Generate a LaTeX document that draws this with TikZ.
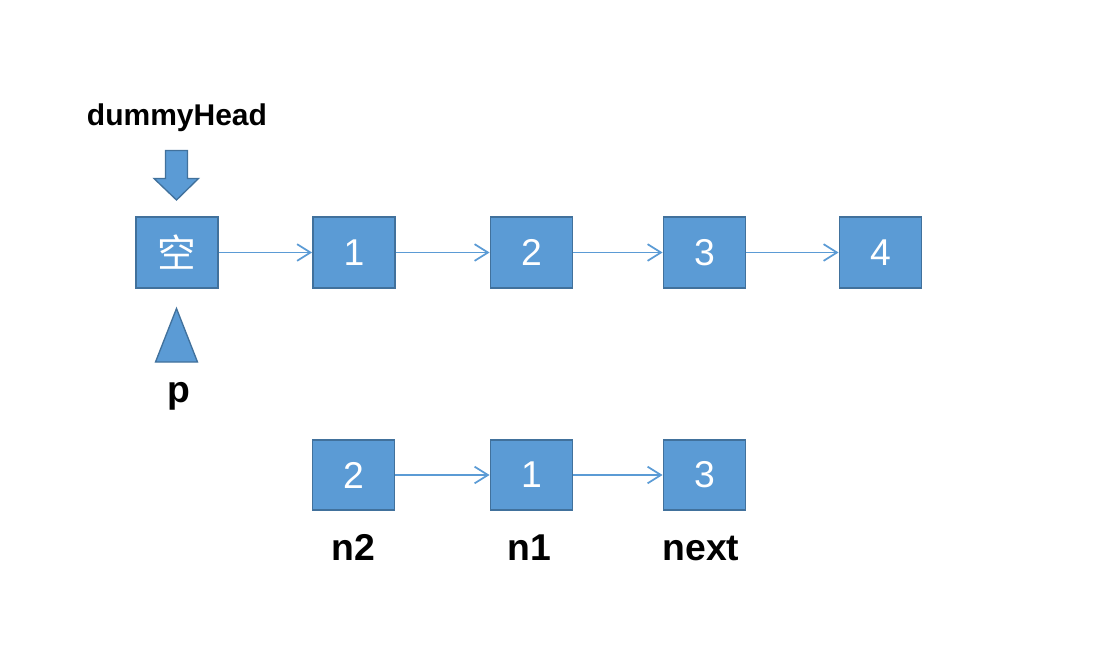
\documentclass[tikz,border=0pt]{standalone}
\usepackage{fontspec}
\setmainfont{Liberation Sans}
\newfontfamily\cjk{Noto Sans CJK SC}
\usetikzlibrary{arrows.meta,positioning}

\definecolor{boxblue}{HTML}{5B9BD5}
\definecolor{boxedge}{HTML}{41719C}

\begin{document}
\begin{tikzpicture}[x=0.75pt,y=-0.75pt,
    listnode/.style={draw=boxedge,fill=boxblue,line width=1.4pt,minimum width=61.5pt,
      minimum height=53pt,inner sep=0pt,text=white,font=\fontsize{28}{30}\selectfont},
    link/.style={draw=boxblue,line width=1.3pt,-{Straight Barb[length=10pt,width=12.5pt,line width=1.3pt]}},
    ptrlabel/.style={anchor=base,font=\bfseries\fontsize{28}{30}\selectfont},
    pointer/.style={draw=boxedge,fill=boxblue,line width=1pt,line join=miter}]
  \useasboundingbox (0,0) rectangle (1118,654);

  % top list
  \node[listnode] (null) at (177,252.5) {\cjk\fontsize{29}{30}\selectfont 空};
  \node[listnode] (a1) at (354,252.5) {1};
  \node[listnode] (a2) at (531.5,252.5) {2};
  \node[listnode] (a3) at (704.5,252.5) {3};
  \node[listnode] (a4) at (880.5,252.5) {4};
  \draw[link] (null) -- (a1);
  \draw[link] (a1) -- (a2);
  \draw[link] (a2) -- (a3);
  \draw[link] (a3) -- (a4);

  % pointers on the dummy node
  \node[ptrlabel,font=\bfseries\fontsize{22.5}{24}\selectfont] (head) at (177,125) {dummyHead};
  \draw[pointer] (165.5,150.5) -- (187.5,150.5) -- (187.5,178.5) -- (198.5,178.5)
    -- (176.5,200) -- (154,178.5) -- (165.5,178.5) -- cycle;
  \draw[pointer] (176.5,308.5) -- (197.5,362) -- (155.5,362) -- cycle;
  \node[ptrlabel] (p) at (178.5,402) {p};

  % after the swap
  \node[listnode] (b2) at (353.5,475) {2};
  \node[listnode] (b1) at (531.5,475) {1};
  \node[listnode] (b3) at (704.5,475) {3};
  \draw[link] (b2) -- (b1);
  \draw[link] (b1) -- (b3);
  \node[ptrlabel] (n2) at (353.5,560) {n2};
  \node[ptrlabel] (n1) at (529,560) {n1};
  \node[ptrlabel] (next) at (701,560) {next};
\end{tikzpicture}
\end{document}
